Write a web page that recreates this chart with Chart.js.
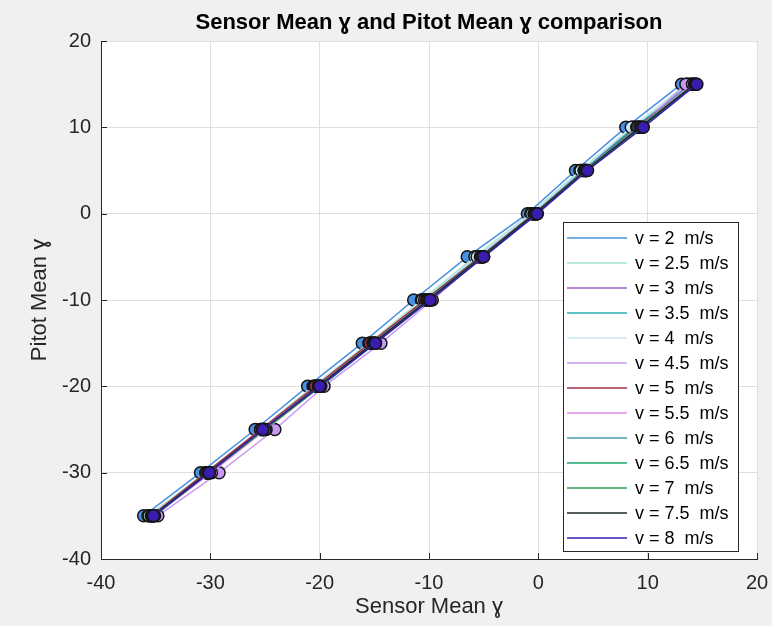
<!DOCTYPE html>
<html>
<head>
<meta charset="utf-8">
<script src="https://cdn.jsdelivr.net/npm/chart.js@4.4.0/dist/chart.umd.min.js"></script>
<style>
  html, body { margin: 0; padding: 0; background: #f0f0f0; }
  #wrap { width: 772px; height: 626px; }
</style>
</head>
<body>
<div id="wrap"><canvas id="angleChart" width="772" height="626"></canvas></div>
<script>
'use strict';

// pitot mean angle (y) for every test point
const pitotMean = [-35, -30, -25, -20, -15, -10, -5, 0, 5, 10, 15];

// sensor mean angle (x), one list per wind speed
const speeds = ['2', '2.5', '3', '3.5', '4', '4.5', '5', '5.5', '6', '6.5', '7', '7.5', '8'];
const sensor_v2   = [-36.1, -30.9, -25.9, -21.1, -16.1, -11.4, -6.5, -1.0, 3.4, 8.0, 13.1];
const sensor_v2_5 = [-35.7, -30.4, -25.4, -20.6, -15.5, -10.7, -5.8, -0.7, 3.8, 8.6, 13.6];
const sensor_v3   = [-35.4, -30.2, -25.1, -20.2, -15.2, -10.3, -5.4, -0.4, 4.1, 8.9, 13.9];
const sensor_v3_5 = [-35.5, -30.3, -25.3, -20.4, -15.3, -10.5, -5.5, -0.5, 4.0, 8.8, 14.0];
const sensor_v4   = [-35.6, -30.3, -25.2, -20.5, -15.4, -10.6, -5.6, -0.6, 3.9, 8.5, 13.7];
const sensor_v4_5 = [-34.8, -29.2, -24.1, -19.6, -14.4, -9.7, -5.1, -0.2, 4.3, 9.2, 13.5];
const sensor_v5   = [-35.4, -30.4, -25.4, -20.4, -15.4, -10.4, -5.3, -0.4, 4.2, 9.0, 14.2];
const sensor_v5_5 = [-35.2, -29.9, -24.9, -20.0, -15.0, -10.1, -5.2, -0.3, 4.3, 9.2, 14.1];
const sensor_v6   = [-35.3, -30.1, -25.1, -20.1, -15.1, -10.2, -5.2, -0.3, 4.2, 9.1, 14.3];
const sensor_v6_5 = [-35.2, -30.2, -25.1, -20.0, -15.0, -10.0, -5.1, -0.2, 4.4, 9.4, 14.4];
const sensor_v7   = [-35.1, -30.1, -25.0, -19.9, -14.9, -9.9, -5.0, -0.1, 4.4, 9.5, 14.4];
const sensor_v7_5 = [-35.3, -30.2, -25.2, -20.1, -15.1, -10.1, -5.2, -0.3, 4.3, 9.3, 14.3];
const sensor_v8   = [-35.2, -30.1, -25.2, -20.0, -14.9, -9.9, -5.0, -0.1, 4.5, 9.6, 14.5];

const sensorData = [sensor_v2, sensor_v2_5, sensor_v3, sensor_v3_5, sensor_v4, sensor_v4_5,
  sensor_v5, sensor_v5_5, sensor_v6, sensor_v6_5, sensor_v7, sensor_v7_5, sensor_v8];

const xTicks = [-40, -30, -20, -10, 0, 10, 20];
const yTicks = [-40, -30, -20, -10, 0, 10, 20];

const colors = ['#4790e4', '#a3e4cc', '#a05cbf', '#2aaeb0', '#c8e6f5', '#c99af5', '#a83244',
  '#e58ae6', '#4f9cae', '#20a86a', '#2f9a4f', '#1c2b22', '#3a1cb0'];

const FONT = "'Liberation Sans', Arial, Helvetica, sans-serif";
const AXIS_COLOR = '#262626';

// build the datasets
let datasets = sensorData.map(function(values, i) {
  return {
    label: 'v = ' + speeds[i] + '  m/s',
    data: values.map(function(x, j) { return { x: x, y: pitotMean[j] }; }),
    showLine: true,
    borderColor: colors[i],
    borderWidth: 1.5,
    backgroundColor: colors[i],
    pointBackgroundColor: colors[i],
    pointBorderColor: '#141414',
    pointBorderWidth: 1.5,
    pointRadius: 6,
    // last speed ends up on top, like the original plot
    order: sensorData.length - i
  };
});

// background, title, inner tick marks and the boxed legend
const matlabLook = {
  id: 'matlabLook',
  beforeDraw(chart) {
    const ctx = chart.ctx;
    const a = chart.chartArea;
    ctx.save();
    ctx.fillStyle = '#f0f0f0';
    ctx.fillRect(0, 0, chart.width, chart.height);
    ctx.fillStyle = '#ffffff';
    ctx.fillRect(a.left, a.top, a.right - a.left, a.bottom - a.top);
    ctx.restore();
  },
  afterDraw(chart) {
    const ctx = chart.ctx;
    const a = chart.chartArea;
    const xs = chart.scales.x;
    const ys = chart.scales.y;
    ctx.save();

    // tick marks pointing into the plot
    ctx.strokeStyle = AXIS_COLOR;
    ctx.lineWidth = 1;
    ctx.beginPath();
    xTicks.forEach(function(t) {
      const px = Math.round(xs.getPixelForValue(t)) + 0.5;
      ctx.moveTo(px, a.bottom);
      ctx.lineTo(px, a.bottom - 6);
    });
    yTicks.forEach(function(t) {
      const py = Math.round(ys.getPixelForValue(t)) + 0.5;
      ctx.moveTo(a.left, py);
      ctx.lineTo(a.left + 6, py);
    });
    ctx.stroke();

    // title
    ctx.fillStyle = '#000';
    ctx.font = 'bold 22px ' + FONT;
    ctx.textAlign = 'center';
    ctx.textBaseline = 'middle';
    ctx.fillText('Sensor Mean ɣ and Pitot Mean ɣ comparison', (a.left + a.right) / 2, 23);

    // legend box
    const lx = 563.5, ly = 222.5, lw = 175, lh = 329;
    ctx.fillStyle = '#ffffff';
    ctx.fillRect(lx, ly, lw, lh);
    ctx.strokeStyle = AXIS_COLOR;
    ctx.lineWidth = 1;
    ctx.strokeRect(lx, ly, lw, lh);
    ctx.font = '18px ' + FONT;
    ctx.textAlign = 'left';
    chart.data.datasets.forEach(function(ds, i) {
      const cy = 238 + i * 25;
      ctx.strokeStyle = ds.borderColor;
      ctx.lineWidth = 1.5;
      ctx.beginPath();
      ctx.moveTo(567, cy);
      ctx.lineTo(627, cy);
      ctx.stroke();
      ctx.fillStyle = '#000';
      ctx.fillText(ds.label, 635, cy + 1);
    });
    ctx.restore();
  }
};

let context = document.querySelector('#angleChart').getContext('2d');
new Chart(context, {
  type: 'scatter',
  data: { datasets: datasets },
  options: {
    responsive: false,
    animation: false,
    layout: { padding: { top: 41, right: 15, bottom: 0, left: 0 } },
    plugins: {
      legend: { display: false },
      title: { display: false },
      tooltip: { enabled: false }
    },
    scales: {
      x: {
        type: 'linear',
        min: -40,
        max: 20,
        afterFit: function(scale) {
          scale.height = 67;
          scale.paddingLeft = 0;
          scale.paddingRight = 0;
        },
        afterBuildTicks: function(scale) {
          scale.ticks = xTicks.map(function(v) { return { value: v }; });
        },
        grid: { color: '#dfdfdf', drawTicks: false },
        border: { color: AXIS_COLOR, width: 1 },
        ticks: { color: AXIS_COLOR, padding: 12, font: { family: FONT, size: 20 } },
        title: {
          display: true,
          text: 'Sensor Mean ɣ',
          color: AXIS_COLOR,
          padding: { top: 0, bottom: 6 },
          font: { family: FONT, size: 22 }
        }
      },
      y: {
        type: 'linear',
        min: -40,
        max: 20,
        afterFit: function(scale) {
          scale.width = 101;
          scale.paddingTop = 0;
          scale.paddingBottom = 0;
        },
        afterBuildTicks: function(scale) {
          scale.ticks = yTicks.map(function(v) { return { value: v }; });
        },
        grid: { color: '#dfdfdf', drawTicks: false },
        border: { color: AXIS_COLOR, width: 1 },
        ticks: { color: AXIS_COLOR, padding: 10, font: { family: FONT, size: 20 } },
        title: {
          display: true,
          text: 'Pitot Mean ɣ',
          color: AXIS_COLOR,
          padding: { top: 27, bottom: 0 },
          font: { family: FONT, size: 22 }
        }
      }
    }
  },
  plugins: [matlabLook]
});
</script>
</body>
</html>
